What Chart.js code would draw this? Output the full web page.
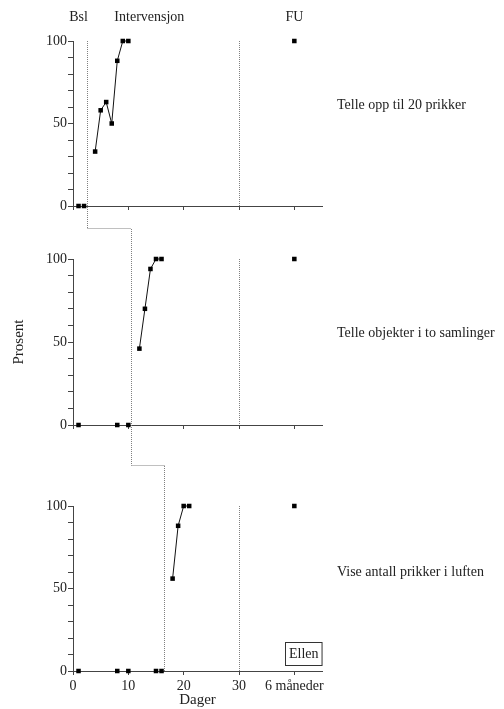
<!DOCTYPE html>
<html>
<head>
<meta charset="utf-8">
<script src="https://cdn.jsdelivr.net/npm/chart.js@4/dist/chart.umd.min.js"></script>
<style>
  body { margin: 0; background: #fff; }
  #wrap { position: relative; width: 504px; height: 709px; }
  canvas { position: absolute; left: 0; }
</style>
</head>
<body>
<div id="wrap">
  <canvas id="panel0" width="504" height="229" style="top:0px"></canvas>
  <canvas id="panel1" width="504" height="237" style="top:229px"></canvas>
  <canvas id="panel2" width="504" height="243" style="top:466px"></canvas>
</div>
<script>
/** Data */

const panelNames = ["Telle opp til 20 prikker", "Telle objekter i to samlinger", "Vise antall prikker i luften"];
const phaseNames = ["Bsl", "Intervensjon", "FU"];

const baselineDays = [[1, 2], [1, 8, 10], [1, 8, 10, 15, 16]];
const baselineValues = [[0, 0], [0, 0, 0], [0, 0, 0, 0, 0]];

const interventionDays = [[4, 5, 6, 7, 8, 9, 10], [12, 13, 14, 15, 16], [18, 19, 20, 21]];
const interventionValues = [[33, 58, 63, 50, 88, 100, 100], [46, 70, 94, 100, 100], [56, 88, 100, 100]];

const followUpDay = 40;
const followUpValues = [100, 100, 100];

const phaseChanges = [2.5, 10.5, 16.5];
const followUpStart = 30;

const xTickValues = [0, 10, 20, 30, 40];
const xTickLabels = ["0", "10", "20", "30", "6 måneder"];

const participant = "Ellen";

/** Oppsett */

const FONT = "'Liberation Serif', 'Times New Roman', serif";
const TEXT = "#222";
const AXIS = "#444";
const DOTS = "#808080";

const padTop = [41, 30, 40];
const xAxisHeight = [23, 41, 38];
const labelLevel = [61, 55, 60];

function pts(xs, ys) {
  return xs.map((x, k) => ({ x: x, y: ys[k] }));
}

function dotted(ctx, x1, y1, x2, y2) {
  ctx.save();
  ctx.strokeStyle = DOTS;
  ctx.lineWidth = 1;
  ctx.setLineDash([1, 1]);
  ctx.beginPath();
  ctx.moveTo(x1, y1);
  ctx.lineTo(x2, y2);
  ctx.stroke();
  ctx.restore();
}

function overlay(i) {
  return {
    id: "overlay" + i,
    beforeDatasetsDraw(chart) {
      const ctx = chart.ctx;
      const x = chart.scales.x;
      const y = chart.scales.y;
      const h = chart.height;

      // fasebytte
      const px = Math.round(x.getPixelForValue(phaseChanges[i])) + 0.5;
      const top = i === 0 ? y.getPixelForValue(100) : 0;
      const bottom = i === 2 ? y.getPixelForValue(0) : h - 0.5;
      dotted(ctx, px, top, px, bottom);
      if (i < 2) {
        const nx = Math.round(x.getPixelForValue(phaseChanges[i + 1])) + 0.5;
        dotted(ctx, px, h - 0.5, nx, h - 0.5);
      }

      // oppfølging
      const fx = Math.round(x.getPixelForValue(followUpStart)) + 0.5;
      dotted(ctx, fx, y.getPixelForValue(100), fx, y.getPixelForValue(0));
    },
    afterDraw(chart) {
      const ctx = chart.ctx;
      const x = chart.scales.x;
      const y = chart.scales.y;
      const area = chart.chartArea;
      ctx.save();
      ctx.fillStyle = TEXT;
      ctx.font = "14px " + FONT;
      ctx.textBaseline = "middle";

      ctx.textAlign = "left";
      ctx.fillText(panelNames[i], area.right + 15, y.getPixelForValue(labelLevel[i]));

      if (i === 0) {
        ctx.textAlign = "center";
        const at = [1, 13.8, followUpDay];
        phaseNames.forEach((name, k) => ctx.fillText(name, x.getPixelForValue(at[k]), 17));
      }

      if (i === 2) {
        ctx.font = "14px " + FONT;
        const w = ctx.measureText(participant).width + 7;
        const bx = Math.round(area.right - w) + 0.5;
        const by = Math.round(y.getPixelForValue(0)) - 28.5;
        ctx.fillStyle = "#fff";
        ctx.fillRect(bx, by, w, 23);
        ctx.strokeStyle = "#333";
        ctx.lineWidth = 1;
        ctx.strokeRect(bx, by, w, 23);
        ctx.fillStyle = TEXT;
        ctx.textAlign = "center";
        ctx.fillText(participant, bx + w / 2, by + 12);
      }
      ctx.restore();
    }
  };
}

function makePanel(i) {
  const last = i === 2;
  const pointStyle = {
    pointStyle: "rect",
    pointRadius: 3.2,
    pointHoverRadius: 3.2,
    pointBackgroundColor: "#000",
    pointBorderWidth: 0,
    borderColor: "#111",
    borderWidth: 1,
    clip: false
  };

  return new Chart(document.getElementById("panel" + i).getContext("2d"), {
    type: "scatter",
    data: {
      datasets: [
        Object.assign({ data: pts(baselineDays[i], baselineValues[i]), showLine: false }, pointStyle),
        Object.assign({ data: pts(interventionDays[i], interventionValues[i]), showLine: true }, pointStyle),
        Object.assign({ data: [{ x: followUpDay, y: followUpValues[i] }], showLine: false }, pointStyle)
      ]
    },
    options: {
      responsive: false,
      animation: false,
      layout: { padding: { top: padTop[i], right: 182, left: 0, bottom: 0 } },
      plugins: { legend: { display: false }, tooltip: { enabled: false } },
      scales: {
        x: {
          type: "linear",
          min: 0,
          max: 45,
          afterFit: (s) => { s.height = xAxisHeight[i]; },
          afterBuildTicks: (s) => { s.ticks = xTickValues.map((v) => ({ value: v })); },
          ticks: {
            display: last,
            autoSkip: false,
            maxRotation: 0,
            padding: 3,
            color: TEXT,
            font: { family: FONT, size: 14 },
            callback: (v) => xTickLabels[xTickValues.indexOf(v)]
          },
          grid: { drawOnChartArea: false, drawTicks: true, tickLength: 4, color: AXIS },
          border: { display: true, color: AXIS, width: 1 },
          title: {
            display: last,
            text: "Dager",
            color: TEXT,
            font: { family: FONT, size: 15 },
            padding: { top: 0, bottom: 0 }
          }
        },
        y: {
          min: 0,
          max: 100,
          afterFit: (s) => { s.width = 73; },
          ticks: {
            stepSize: 10,
            autoSkip: false,
            padding: 1,
            color: TEXT,
            font: { family: FONT, size: 14 },
            callback: (v) => (v % 50 === 0 ? v : "")
          },
          grid: { drawOnChartArea: false, drawTicks: true, tickLength: 5, color: AXIS },
          border: { display: true, color: AXIS, width: 1 },
          title: {
            display: i === 1,
            text: "Prosent",
            color: TEXT,
            font: { family: FONT, size: 15 },
            padding: { top: 10, bottom: 0 }
          }
        }
      }
    },
    plugins: [overlay(i)]
  });
}

const charts = [0, 1, 2].map(makePanel);
</script>
</body>
</html>
